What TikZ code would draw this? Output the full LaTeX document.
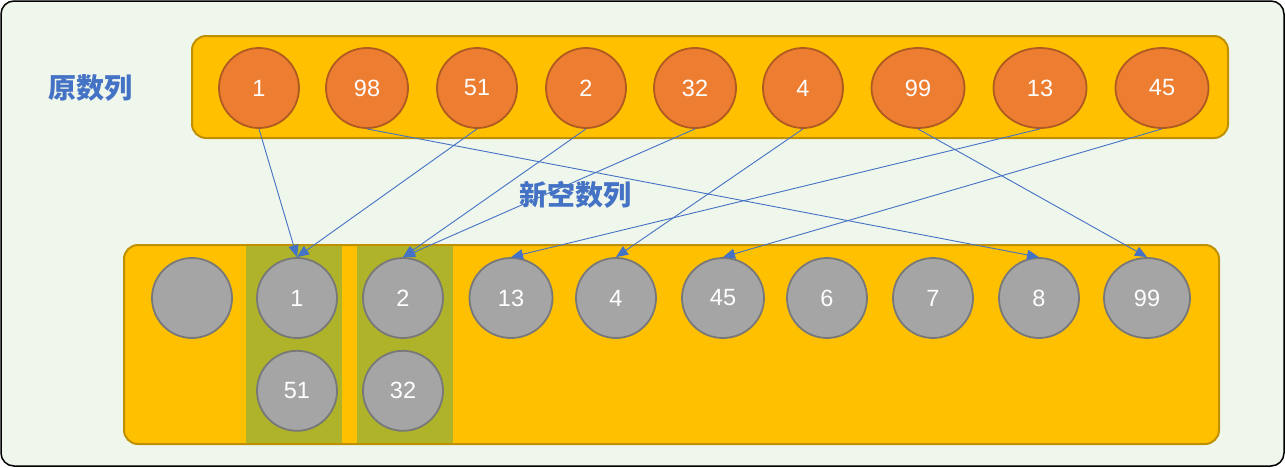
\documentclass[tikz,border=0pt]{standalone}
\usepackage{xcolor}
\usepackage{fontspec}
\usepackage{tikz}
\usetikzlibrary{shapes.geometric, arrows.meta, positioning}
\setmainfont{Liberation Sans}
\newfontfamily\cjk{Noto Sans CJK SC}
\definecolor{sortBack}{RGB}{239, 246, 236}
\definecolor{sortBand}{RGB}{255, 192, 0}
\definecolor{sortBandLine}{RGB}{191, 144, 0}
\definecolor{sortBucket}{RGB}{174, 179, 42}
\definecolor{sortOrig}{RGB}{237, 125, 49}
\definecolor{sortOrigLine}{RGB}{174, 90, 33}
\definecolor{sortNew}{RGB}{165, 165, 165}
\definecolor{sortNewLine}{RGB}{120, 120, 120}
\definecolor{sortLink}{RGB}{68, 114, 196}
\begin{document}
\begin{tikzpicture}[
    x=1pt, y=-1pt,
    band/.style={
        draw=sortBandLine,
        fill=sortBand,
        line width=2pt,
        rounded corners=14pt
    },
    ball/.style={
        ellipse,
        draw=#1Line,
        fill=#1,
        line width=1.8pt,
        inner sep=0pt,
        minimum width=80pt,
        minimum height=80pt,
        text=white,
        font=\fontsize{23.5}{26}\selectfont
    },
    title/.style={
        text=sortLink,
        font=\cjk\bfseries\fontsize{28}{32}\selectfont
    },
    link/.style={
        -{Triangle[length=12pt, width=10pt]},
        draw=sortLink,
        line width=0.9pt
    }
]
    \useasboundingbox (0,0) rectangle (1285,467);
    \draw[fill=sortBack, draw=black, line width=1.5pt, rounded corners=13pt]
        (1,1) rectangle (1284,466);

    % Bands and buckets
    \draw[band] (192,36) rectangle (1228,138);
    \draw[band] (124,245) rectangle (1219,444);
    \fill[sortBucket] (246,246) rectangle (342,443);
    \fill[sortBucket] (357,246) rectangle (453,443);

    % Titles
    \node[title] (origTitle) at (90,88) {原数列};
    \node[title] (newTitle) at (575,195) {新空数列};

    % Original sequence
    \node[ball=sortOrig] (o1) at (259,88) {1};
    \node[ball=sortOrig, minimum width=82pt] (o98) at (367,88) {98};
    \node[ball=sortOrig] (o51) at (477,88) {51};
    \node[ball=sortOrig] (o2) at (586,88) {2};
    \node[ball=sortOrig, minimum width=82pt] (o32) at (695,88) {32};
    \node[ball=sortOrig] (o4) at (803,88) {4};
    \node[ball=sortOrig, minimum width=93pt] (o99) at (918,88) {99};
    \node[ball=sortOrig, minimum width=93pt] (o13) at (1040,88) {13};
    \node[ball=sortOrig, minimum width=93pt] (o45) at (1162,88) {45};

    % New sequence
    \node[ball=sortNew] (n0) at (192,298) {};
    \node[ball=sortNew] (n1) at (297,298) {1};
    \node[ball=sortNew] (n2) at (403,298) {2};
    \node[ball=sortNew, minimum width=83pt] (n13) at (511,298) {13};
    \node[ball=sortNew] (n4) at (616,298) {4};
    \node[ball=sortNew, minimum width=82pt] (n45) at (723,298) {45};
    \node[ball=sortNew] (n6) at (827,298) {6};
    \node[ball=sortNew] (n7) at (933,298) {7};
    \node[ball=sortNew] (n8) at (1039,298) {8};
    \node[ball=sortNew, minimum width=86pt] (n99) at (1147,298) {99};
    \node[ball=sortNew, below=11pt of n1] (n51) {51};
    \node[ball=sortNew, below=11pt of n2] (n32) {32};

    % Connections
    \foreach \from/\to in {o1/n1, o98/n8, o51/n1, o2/n2, o32/n2,
                           o4/n4, o99/n99, o13/n13, o45/n45} {
        \draw[link] (\from.south) -- (\to.north);
    }

\end{tikzpicture}
\end{document}
